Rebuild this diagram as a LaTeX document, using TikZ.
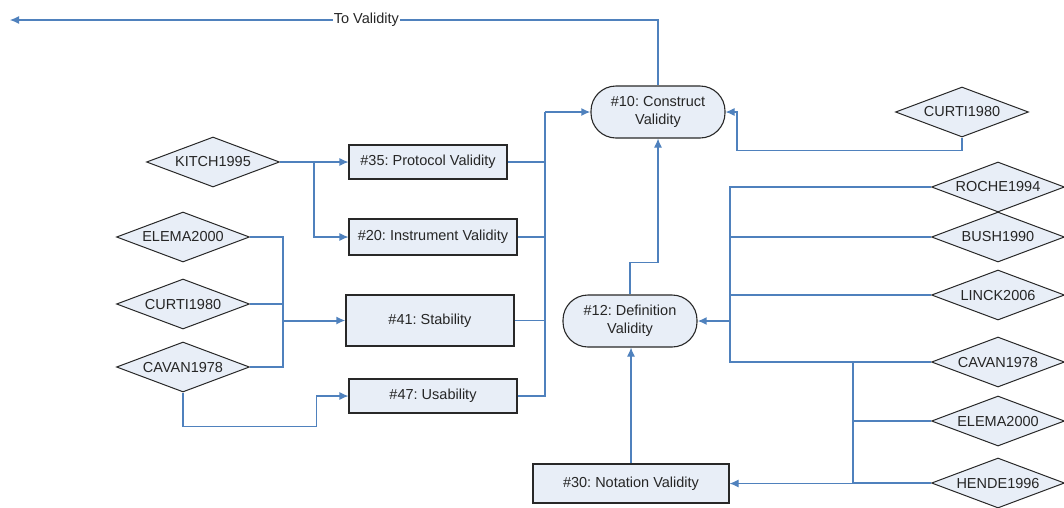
\documentclass[tikz,border=0pt]{standalone}
\usepackage{fontspec}
\setmainfont{Liberation Sans}
\usetikzlibrary{arrows,arrows.meta,shapes.geometric,positioning}
\definecolor{linkblue}{RGB}{79,129,189}
\definecolor{nodefill}{RGB}{232,238,247}
\definecolor{nodeline}{RGB}{40,40,40}
\tikzstyle{link}=[draw=linkblue,line width=1.1pt]
\tikzstyle{arrow}=[link,-{Latex[length=9pt,width=8pt]}]
\tikzstyle{trunk}=[arrow,line width=2pt]
\tikzstyle{source}=[diamond,aspect=2.66,draw=nodeline,fill=nodefill,line width=1pt,minimum width=133pt,minimum height=50pt,inner sep=0pt]
\tikzstyle{metric}=[rectangle,draw=nodeline,fill=nodefill,line width=1.1pt]
\tikzstyle{goal}=[metric,rounded corners=25pt,minimum width=134pt,minimum height=52pt,align=center]

\begin{document}
\frenchspacing
\begin{tikzpicture}[x=1pt,y=-1pt,font=\fontsize{14.5}{18}\selectfont,text=black!85]
\useasboundingbox (0,0) rectangle (1064,507);

% goals
\node (C10) [goal] at (658,112) {\#10: Construct\\Validity};
\node (C12) [goal] at (630,321) {\#12: Definition\\Validity};

% metrics
\node (P35) [metric,minimum width=158pt,minimum height=34pt] at (428,162) {\#35: Protocol Validity};
\node (P20) [metric,minimum width=168pt,minimum height=36pt] at (433,237) {\#20: Instrument Validity};
\node (S41) [metric,minimum width=168pt,minimum height=51pt] at (430,320.5) {\#41: Stability};
\node (U47) [metric,minimum width=168pt,minimum height=34pt] at (433,396) {\#47: Usability};
\node (N30) [metric,minimum width=196pt,minimum height=39pt] at (631,483.5) {\#30: Notation Validity};

% sources, left
\node (K1995) [source] at (213,162) {KITCH1995};
\node (E2000a) [source] at (183,237) {ELEMA2000};
\node (C1980a) [source] at (183,304) {CURTI1980};
\node (C1978a) [source] at (183,367) {CAVAN1978};

% sources, right
\node (C1980b) [source] at (962,112) {CURTI1980};
\node (R1994) [source] at (998,187) {ROCHE1994};
\node (B1990) [source] at (998,237) {BUSH1990};
\node (L2006) [source] at (998,295) {LINCK2006};
\node (C1978b) [source] at (998,362) {CAVAN1978};
\node (E2000b) [source] at (998,421) {ELEMA2000};
\node (H1996) [source] at (998,483) {HENDE1996};

% junctions
\coordinate (j41) at (283,320.5);
\coordinate (j10) at (545,112);
\coordinate (j12) at (730,321);
\coordinate (j30) at (853,483.5);
\coordinate (validity) at (10,20);

\draw[arrow] (C10.north) |- node[pos=0.725,fill=white,inner sep=1pt] {To Validity} (validity);

\draw[arrow] (K1995.east) -- (P35.west);
\draw[arrow] (K1995.east) -- ++(34,0) |- (P20.west);
\foreach \s in {E2000a,C1980a,C1978a} \draw[link] (\s.east) -| (j41);
\draw[trunk] (j41) -- (S41.west);
\draw[arrow] (C1978a.south) -- ++(0,34) -| ([xshift=-32pt]U47.west) -- (U47.west);

\foreach \m in {P35,P20,S41,U47} \draw[link] (\m.east) -| (j10);
\draw[trunk] (j10) -- (C10.west);
\draw[arrow] (C12.north) -- ++(0,-32) -| (C10.south);
\draw[arrow] (C1980b.south) |- ++(-225,13) |- (C10.east);

\foreach \s in {R1994,B1990,L2006,C1978b} \draw[link] (\s.west) -| (j12);
\draw[trunk] (j12) -- (C12.east);
\foreach \s in {C1978b,E2000b,H1996} \draw[link] (\s.west) -| (j30);
\draw[arrow] (j30) -- (N30.east);
\draw[arrow] (N30.north) -- (N30.north |- C12.south);
\end{tikzpicture}
\end{document}
